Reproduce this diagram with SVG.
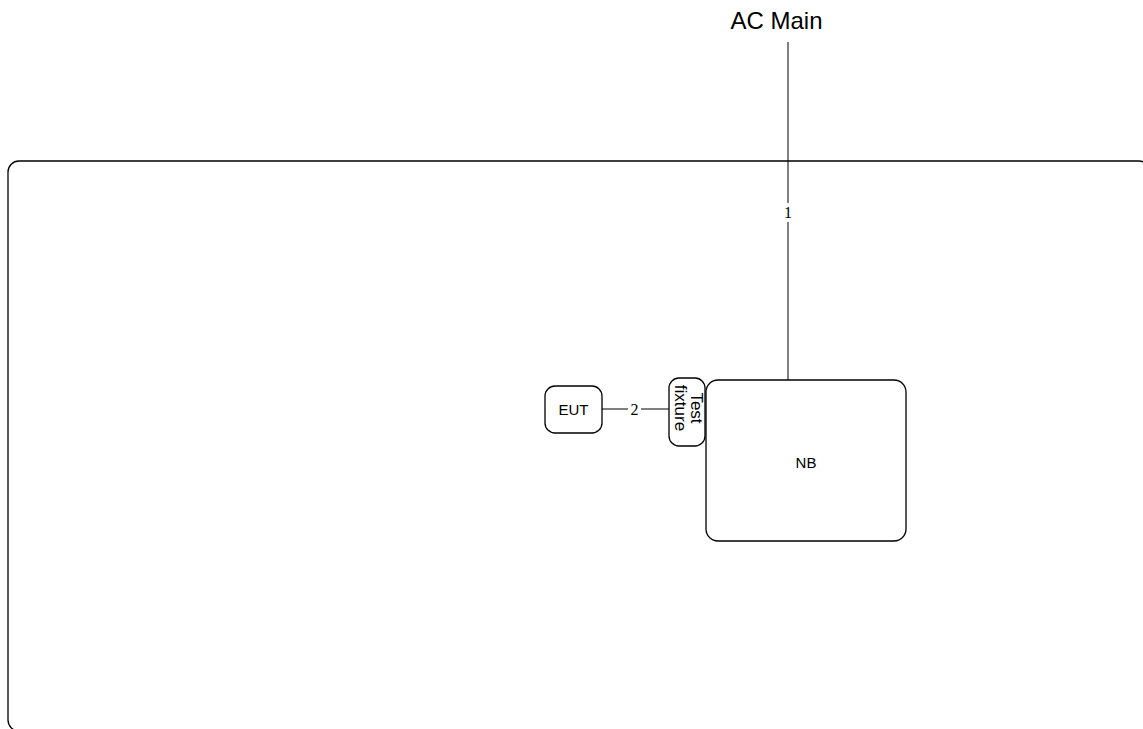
<svg xmlns="http://www.w3.org/2000/svg" width="1143" height="729" viewBox="0 0 1143 729">
<style>
.box{fill:#fff;stroke:#000;stroke-width:1.3}
.ln{stroke:#000;stroke-width:1;fill:none}
.t{font-family:"Liberation Sans",Arial,sans-serif;fill:#000}
.lbl{font-family:"Liberation Serif","Times New Roman",serif;font-size:16px;fill:#000}
</style>
<rect width="1143" height="729" fill="#fff"/>
<g id="room"><rect class="box" x="8" y="161" width="1142" height="570" rx="11"/></g>
<g id="connectors">
<line class="ln" x1="788" y1="42" x2="788" y2="203"/>
<line class="ln" x1="788" y1="222" x2="788" y2="380"/>
<text class="lbl" x="788" y="218" text-anchor="middle">1</text>
<line class="ln" x1="602" y1="409" x2="628" y2="409"/>
<line class="ln" x1="641" y1="409" x2="669" y2="409"/>
<text class="lbl" x="634.5" y="415" text-anchor="middle">2</text>
</g>
<g id="ac-main"><text class="t" x="776.5" y="29" font-size="24" text-anchor="middle">AC Main</text></g>
<g id="nb"><rect class="box" x="706" y="380" width="200" height="161" rx="12"/><text class="t" x="806" y="468" font-size="15" text-anchor="middle">NB</text></g>
<g id="test-fixture"><rect class="box" x="669" y="378" width="36" height="68" rx="10"/>
<text class="t" font-size="17" text-anchor="middle" transform="translate(687,408) rotate(90)"><tspan x="0" y="-4">Test</tspan><tspan x="0" y="12">fixture</tspan></text></g>
<g id="eut"><rect class="box" x="545" y="386" width="57" height="47" rx="10"/><text class="t" x="573.5" y="415" font-size="15" text-anchor="middle">EUT</text></g>
</svg>
